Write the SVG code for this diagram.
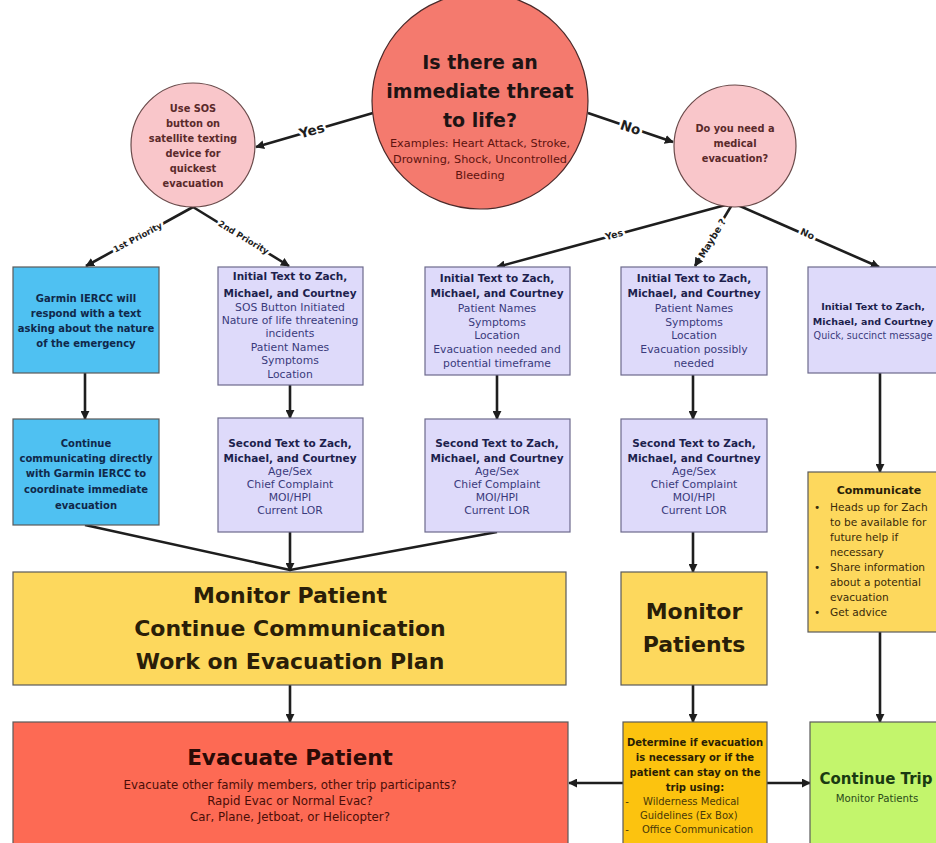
<svg xmlns="http://www.w3.org/2000/svg" width="936" height="843" viewBox="0 0 936 843">
<style>
text{font-family:"DejaVu Sans","Open Sans","Noto Sans",sans-serif;text-anchor:middle}
.b{font-weight:700}
.node{stroke:#5a5a5a;stroke-width:1.2}
.lav{fill:#dedafa;stroke:#6d6a8c}
.blue{fill:#4fc1f2}
.yel{fill:#fdd85d}
.conn line{stroke:#1e1e1e;stroke-width:2.6;fill:none}
.lbl{font-weight:700;fill:#1e1e1e;stroke:#fff;stroke-width:5;paint-order:stroke;stroke-linejoin:round}
.nv{fill:#1d1f4d;font-size:10.5px;font-weight:700}
.nvr{fill:#3a3a7c;font-size:10.8px}
</style>
<defs>
<marker id="ah" viewBox="0 0 10 10" refX="9" refY="5" markerWidth="9" markerHeight="9" markerUnits="userSpaceOnUse" orient="auto">
<path d="M0,0 L10,5 L0,10 z" fill="#1e1e1e"/>
</marker>
</defs>
<rect width="936" height="843" fill="#ffffff"/>

<g id="connectors" class="conn">
<line x1="480" y1="-4" x2="480" y2="7" marker-end="url(#ah)"/>
<line x1="373" y1="113" x2="256" y2="147" marker-end="url(#ah)"/>
<line x1="588" y1="113" x2="673" y2="142" marker-end="url(#ah)"/>
<line x1="193" y1="207" x2="86" y2="266" marker-end="url(#ah)"/>
<line x1="193" y1="207" x2="289" y2="266" marker-end="url(#ah)"/>
<line x1="733" y1="203" x2="497" y2="267" marker-end="url(#ah)"/>
<line x1="733" y1="203" x2="695" y2="266" marker-end="url(#ah)"/>
<line x1="733" y1="203" x2="879" y2="267" marker-end="url(#ah)"/>
<line x1="85" y1="373" x2="85" y2="419" marker-end="url(#ah)"/>
<line x1="290" y1="385" x2="290" y2="418" marker-end="url(#ah)"/>
<line x1="497" y1="375" x2="497" y2="419" marker-end="url(#ah)"/>
<line x1="693" y1="375" x2="693" y2="419" marker-end="url(#ah)"/>
<line x1="880" y1="373" x2="880" y2="472" marker-end="url(#ah)"/>
<line x1="880" y1="632" x2="880" y2="722" marker-end="url(#ah)"/>
<line x1="85" y1="525" x2="290" y2="570"/>
<line x1="497" y1="532" x2="290" y2="570"/>
<line x1="290" y1="532" x2="290" y2="571" marker-end="url(#ah)"/>
<line x1="693" y1="532" x2="693" y2="572" marker-end="url(#ah)"/>
<line x1="290" y1="685" x2="290" y2="722" marker-end="url(#ah)"/>
<line x1="693" y1="685" x2="693" y2="722" marker-end="url(#ah)"/>
<line x1="623" y1="783" x2="569" y2="783" marker-end="url(#ah)"/>
<line x1="767" y1="783" x2="810" y2="783" marker-end="url(#ah)"/>
<text class="lbl" font-size="13.5" transform="translate(313,135) rotate(-16)">Yes</text>
<text class="lbl" font-size="13.5" transform="translate(629,132) rotate(19)">No</text>
<text class="lbl" font-size="8.5" transform="translate(139,240) rotate(-28)">1st Priority</text>
<text class="lbl" font-size="8.5" transform="translate(242,240) rotate(31)">2nd Priority</text>
<text class="lbl" font-size="9.5" transform="translate(615,238) rotate(-15)">Yes</text>
<text class="lbl" font-size="9.5" transform="translate(715,240) rotate(-59)">Maybe ?</text>
<text class="lbl" font-size="9.5" transform="translate(806,237) rotate(24)">No</text>
</g>

<g id="threat">
<circle cx="480" cy="101" r="108" fill="#f47a6e" stroke="#4a2a2a" stroke-width="1.2"/>
<text class="b" font-size="19" fill="#1e1414"><tspan x="480" y="69">Is there an</tspan><tspan x="480" y="98">immediate threat</tspan><tspan x="480" y="127">to life?</tspan></text>
<text font-size="11.3" fill="#5e130e"><tspan x="480" y="147">Examples: Heart Attack, Stroke,</tspan><tspan x="480" y="163">Drowning, Shock, Uncontrolled</tspan><tspan x="480" y="179">Bleeding</tspan></text>
</g>

<g id="sos">
<circle cx="193" cy="145" r="62" fill="#f9c6ca" stroke="#6a4a4a" stroke-width="1.2"/>
<text class="b" font-size="9.8" fill="#5a2a2a"><tspan x="193" y="112">Use SOS</tspan><tspan x="193" y="127">button on</tspan><tspan x="193" y="142">satellite texting</tspan><tspan x="193" y="157">device for</tspan><tspan x="193" y="172">quickest</tspan><tspan x="193" y="187">evacuation</tspan></text>
</g>

<g id="medevac">
<circle cx="735" cy="146" r="61" fill="#f9c6ca" stroke="#6a4a4a" stroke-width="1.2"/>
<text class="b" font-size="9.8" fill="#5a2a2a"><tspan x="735" y="131.5">Do you need a</tspan><tspan x="735" y="146.5">medical</tspan><tspan x="735" y="161.5">evacuation?</tspan></text>
</g>

<g id="garmin1">
<rect class="node blue" x="13" y="267" width="146" height="106"/>
<text class="b" font-size="10" fill="#10284a"><tspan x="86" y="301.5">Garmin IERCC will</tspan><tspan x="86" y="316.5">respond with a text</tspan><tspan x="86" y="331.5">asking about the nature</tspan><tspan x="86" y="346.5">of the emergency</tspan></text>
</g>

<g id="garmin2">
<rect class="node blue" x="13" y="419" width="146" height="106"/>
<text class="b" font-size="10" fill="#10284a"><tspan x="86" y="446.5">Continue</tspan><tspan x="86" y="462">communicating directly</tspan><tspan x="86" y="477">with Garmin IERCC to</tspan><tspan x="86" y="492.5">coordinate immediate</tspan><tspan x="86" y="508.5">evacuation</tspan></text>
</g>

<g id="init2">
<rect class="node lav" x="218" y="267" width="145" height="118"/>
<text class="nv"><tspan x="290" y="280">Initial Text to Zach,</tspan><tspan x="290" y="296.5">Michael, and Courtney</tspan></text>
<text class="nvr"><tspan x="290" y="310.5">SOS Button Initiated</tspan><tspan x="290" y="324">Nature of life threatening</tspan><tspan x="290" y="337">incidents</tspan><tspan x="290" y="350.5">Patient Names</tspan><tspan x="290" y="364">Symptoms</tspan><tspan x="290" y="377.5">Location</tspan></text>
</g>

<g id="second2">
<rect class="node lav" x="218" y="418" width="145" height="114"/>
<text class="nv"><tspan x="290" y="446.5">Second Text to Zach,</tspan><tspan x="290" y="461.5">Michael, and Courtney</tspan></text>
<text class="nvr"><tspan x="290" y="474.5">Age/Sex</tspan><tspan x="290" y="487.5">Chief Complaint</tspan><tspan x="290" y="501">MOI/HPI</tspan><tspan x="290" y="514">Current LOR</tspan></text>
</g>

<g id="init3">
<rect class="node lav" x="425" y="267" width="145" height="108"/>
<text class="nv"><tspan x="497" y="281.5">Initial Text to Zach,</tspan><tspan x="497" y="296.5">Michael, and Courtney</tspan></text>
<text class="nvr"><tspan x="497" y="311.5">Patient Names</tspan><tspan x="497" y="325.5">Symptoms</tspan><tspan x="497" y="339">Location</tspan><tspan x="497" y="353">Evacuation needed and</tspan><tspan x="497" y="367">potential timeframe</tspan></text>
</g>

<g id="second3">
<rect class="node lav" x="425" y="419" width="145" height="113"/>
<text class="nv"><tspan x="497" y="446.5">Second Text to Zach,</tspan><tspan x="497" y="461.5">Michael, and Courtney</tspan></text>
<text class="nvr"><tspan x="497" y="474.5">Age/Sex</tspan><tspan x="497" y="487.5">Chief Complaint</tspan><tspan x="497" y="501">MOI/HPI</tspan><tspan x="497" y="514">Current LOR</tspan></text>
</g>

<g id="init4">
<rect class="node lav" x="621" y="267" width="146" height="108"/>
<text class="nv"><tspan x="694" y="281.5">Initial Text to Zach,</tspan><tspan x="694" y="296.5">Michael, and Courtney</tspan></text>
<text class="nvr"><tspan x="694" y="311.5">Patient Names</tspan><tspan x="694" y="325.5">Symptoms</tspan><tspan x="694" y="339">Location</tspan><tspan x="694" y="353">Evacuation possibly</tspan><tspan x="694" y="367">needed</tspan></text>
</g>

<g id="second4">
<rect class="node lav" x="621" y="419" width="146" height="113"/>
<text class="nv"><tspan x="694" y="446.5">Second Text to Zach,</tspan><tspan x="694" y="461.5">Michael, and Courtney</tspan></text>
<text class="nvr"><tspan x="694" y="474.5">Age/Sex</tspan><tspan x="694" y="487.5">Chief Complaint</tspan><tspan x="694" y="501">MOI/HPI</tspan><tspan x="694" y="514">Current LOR</tspan></text>
</g>

<g id="init5">
<rect class="node lav" x="808" y="267" width="146" height="106"/>
<text class="nv" style="font-size:9.5px"><tspan x="873" y="309.5">Initial Text to Zach,</tspan><tspan x="873" y="324.5">Michael, and Courtney</tspan></text>
<text class="nvr" style="font-size:9.6px"><tspan x="873" y="339">Quick, succinct message</tspan></text>
</g>

<g id="communicate">
<rect class="node yel" x="808" y="472" width="146" height="160"/>
<text class="b" font-size="11" fill="#2a1e08" x="879" y="494">Communicate</text>
<g font-size="10.6" fill="#3a2a0a">
<text x="817" y="511">•</text><text x="817" y="571">•</text><text x="817" y="616">•</text>
<text style="text-anchor:start"><tspan x="830" y="511">Heads up for Zach</tspan><tspan x="830" y="526">to be available for</tspan><tspan x="830" y="541">future  help if</tspan><tspan x="830" y="556">necessary</tspan><tspan x="830" y="571">Share information</tspan><tspan x="830" y="586">about a potential</tspan><tspan x="830" y="601">evacuation</tspan><tspan x="830" y="616">Get advice</tspan></text>
</g>
</g>

<g id="monitor">
<rect class="node yel" x="13" y="572" width="553" height="113"/>
<text class="b" font-size="22" fill="#2a1e08"><tspan x="290" y="603">Monitor Patient</tspan><tspan x="290" y="636">Continue Communication</tspan><tspan x="290" y="669">Work on Evacuation Plan</tspan></text>
</g>

<g id="monitor2">
<rect class="node yel" x="621" y="572" width="146" height="113"/>
<text class="b" font-size="22" fill="#2a1e08"><tspan x="694" y="619">Monitor</tspan><tspan x="694" y="652">Patients</tspan></text>
</g>

<g id="evacuate">
<rect class="node" x="13" y="722" width="555" height="130" fill="#fd6a54"/>
<text class="b" font-size="21.5" fill="#2a0a06" x="290" y="765">Evacuate Patient</text>
<text font-size="11.8" fill="#4a0e08"><tspan x="290" y="789">Evacuate other family members, other trip participants?</tspan><tspan x="290" y="805">Rapid Evac or Normal Evac?</tspan><tspan x="290" y="821">Car, Plane, Jetboat, or Helicopter?</tspan></text>
</g>

<g id="determine">
<rect class="node" x="623" y="722" width="144" height="130" fill="#fcc30f"/>
<text class="b" font-size="10" fill="#2a1e04"><tspan x="695" y="745.5">Determine if evacuation</tspan><tspan x="695" y="760.5">is necessary or if the</tspan><tspan x="695" y="775.5">patient can stay on the</tspan><tspan x="695" y="790.5">trip using:</tspan></text>
<g font-size="10" fill="#4a3a08">
<text x="627" y="804.5">-</text><text x="627" y="832.5">-</text>
<text style="text-anchor:start"><tspan x="643" y="804.5">Wilderness Medical</tspan><tspan x="640" y="818.5">Guidelines (Ex Box)</tspan><tspan x="642" y="832.5">Office Communication</tspan></text>
</g>
</g>

<g id="continue">
<rect class="node" x="810" y="722" width="140" height="130" fill="#c3f56c"/>
<text class="b" font-size="15" fill="#1a3a12" x="876" y="783.5">Continue Trip</text>
<text font-size="10.2" fill="#2a4a1a" x="877" y="802">Monitor Patients</text>
</g>
</svg>
